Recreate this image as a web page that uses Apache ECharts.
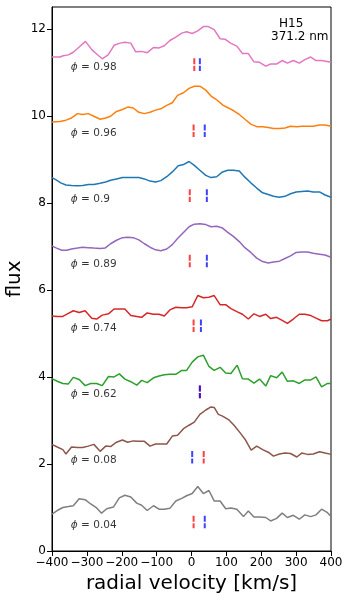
<!DOCTYPE html>
<html><head><meta charset="utf-8">
<script src="https://cdn.jsdelivr.net/npm/echarts@6/dist/echarts.min.js"></script>
<style>html,body{margin:0;padding:0;background:#fff}#c{width:350px;height:601px}</style>
</head><body><div id="c"></div>
<script>
// ---- data ----
const phaseLabels = ['0.98','0.96','0.9','0.89','0.74','0.62','0.08','0.04'];
const phaseLabelY = [11.11, 9.60, 8.09, 6.60, 5.11, 3.59, 2.09, 0.59];
const phaseLabelX = -346;

const vPink = [-400,-377,-368,-353,-339,-322,-304,-286,-272,-256,-239,-222,-205,-191,-174,-160,-143,-127,-109,-93,-78,-62,-45,-28,-14,2,18,34,48,65,82,96,112,130,146,163,179,195,213,227,244,260,275,292,309,325,342,357,373,400];
const fPink = [11.35,11.35,11.38,11.40,11.46,11.58,11.71,11.52,11.42,11.31,11.40,11.62,11.67,11.69,11.67,11.47,11.48,11.45,11.57,11.56,11.61,11.73,11.81,11.90,11.93,11.89,11.95,12.05,12.05,11.98,11.77,11.76,11.67,11.60,11.43,11.43,11.24,11.23,11.14,11.19,11.19,11.27,11.21,11.27,11.21,11.29,11.35,11.27,11.27,11.23];

const vOrange = [-400,-377,-360,-344,-327,-312,-296,-280,-262,-246,-232,-215,-200,-183,-167,-151,-135,-119,-103,-88,-71,-55,-40,-23,-7,8,24,41,58,72,91,106,122,137,153,170,187,204,220,235,252,268,284,302,316,333,349,367,383,400];
const fOrange = [9.86,9.87,9.90,9.95,10.05,10.03,10.05,9.99,9.92,9.95,9.99,10.10,10.14,10.20,10.18,10.08,10.05,10.08,10.13,10.16,10.24,10.30,10.47,10.53,10.63,10.68,10.68,10.59,10.44,10.37,10.24,10.18,10.11,10.03,9.92,9.81,9.75,9.75,9.73,9.71,9.71,9.72,9.76,9.75,9.76,9.76,9.76,9.79,9.79,9.76];

const vBlue = [-400,-387,-375,-360,-344,-327,-312,-296,-280,-262,-246,-232,-215,-198,-183,-167,-151,-135,-119,-103,-88,-71,-55,-38,-23,-7,8,24,41,56,72,89,104,120,137,153,170,187,204,220,235,252,268,284,300,316,333,349,367,383,400];
const fBlue = [8.58,8.52,8.46,8.41,8.40,8.39,8.40,8.42,8.42,8.45,8.48,8.52,8.55,8.58,8.58,8.58,8.58,8.55,8.50,8.48,8.51,8.60,8.71,8.85,8.88,8.95,8.86,8.75,8.63,8.58,8.60,8.71,8.75,8.75,8.73,8.59,8.46,8.34,8.23,8.19,8.15,8.13,8.15,8.21,8.25,8.26,8.27,8.25,8.25,8.18,8.13];

const vPurple = [-400,-387,-372,-358,-344,-327,-312,-296,-280,-262,-248,-232,-215,-198,-183,-167,-151,-135,-119,-103,-88,-71,-55,-40,-23,-7,8,24,41,56,72,89,104,120,137,153,170,187,204,220,235,252,268,284,300,316,333,349,367,383,400];
const fPurple = [7.01,6.96,6.91,6.91,6.94,6.96,6.98,6.97,6.96,6.95,6.96,7.06,7.14,7.20,7.21,7.20,7.15,7.06,6.98,6.92,6.90,6.94,7.04,7.18,7.32,7.45,7.51,7.52,7.50,7.45,7.46,7.42,7.32,7.23,7.11,6.97,6.86,6.73,6.65,6.62,6.64,6.66,6.72,6.78,6.86,6.87,6.87,6.84,6.82,6.80,6.75];

const vRed = [-400,-385,-369,-353,-339,-322,-305,-286,-272,-256,-238,-222,-207,-191,-174,-157,-143,-127,-109,-93,-78,-62,-45,-28,-14,2,18,34,50,65,82,98,113,130,146,163,179,195,213,227,244,260,275,292,309,325,342,357,373,390,400];
const fRed = [5.40,5.39,5.39,5.46,5.52,5.48,5.52,5.35,5.33,5.42,5.45,5.56,5.56,5.56,5.41,5.39,5.37,5.47,5.44,5.44,5.40,5.54,5.60,5.59,5.59,5.61,5.87,5.82,5.83,5.87,5.66,5.66,5.57,5.50,5.44,5.33,5.45,5.39,5.44,5.34,5.37,5.30,5.23,5.33,5.44,5.44,5.41,5.35,5.29,5.29,5.33];

const vGreen = [-400,-385,-369,-353,-339,-322,-305,-289,-272,-256,-238,-222,-207,-191,-174,-157,-143,-127,-109,-93,-78,-62,-45,-28,-14,2,18,34,50,65,82,98,113,131,146,163,179,195,213,227,244,260,275,292,309,325,342,357,373,390,400];
const fGreen = [3.96,3.90,3.85,3.84,3.99,3.94,3.80,3.85,3.85,3.80,4.01,4.00,4.07,3.95,3.89,3.81,3.92,3.87,3.98,4.02,4.05,4.06,4.06,4.15,4.15,4.34,4.46,4.50,4.24,4.15,4.22,4.09,4.08,4.27,3.96,3.95,3.86,3.95,3.79,4.03,3.98,4.11,3.90,3.91,3.85,3.93,3.93,4.00,3.77,3.85,3.85];

const vBrown = [-400,-385,-369,-360,-344,-327,-312,-296,-280,-262,-246,-232,-215,-198,-183,-167,-151,-135,-119,-103,-88,-71,-55,-40,-23,-7,8,24,41,56,65,77,89,106,122,139,155,171,187,204,220,235,252,268,284,302,316,333,349,367,383,400];
const fBrown = [2.45,2.39,2.33,2.23,2.39,2.38,2.38,2.41,2.45,2.29,2.41,2.40,2.50,2.55,2.50,2.53,2.52,2.52,2.41,2.46,2.46,2.46,2.64,2.66,2.81,2.89,2.96,3.14,3.24,3.31,3.30,3.14,3.10,3.02,2.89,2.72,2.55,2.32,2.41,2.33,2.27,2.18,2.23,2.25,2.24,2.16,2.25,2.22,2.23,2.28,2.25,2.22];

const vGray = [-400,-385,-369,-353,-339,-322,-305,-289,-272,-258,-243,-224,-207,-191,-174,-157,-143,-127,-109,-93,-78,-62,-45,-28,-14,2,18,34,50,65,82,98,113,130,149,163,179,195,213,227,244,260,275,292,309,325,342,357,373,390,400];
const fGray = [0.85,0.93,1.00,1.02,1.04,1.20,1.18,1.08,0.99,0.87,0.97,1.01,1.22,1.28,1.24,1.10,1.05,0.93,1.04,0.96,0.96,0.98,1.15,1.21,1.27,1.32,1.48,1.32,1.39,1.15,1.15,0.97,0.99,0.96,0.79,0.92,0.78,0.78,0.77,0.69,0.75,0.87,0.77,0.82,0.73,0.83,0.79,0.83,0.96,0.88,0.79];

// marker velocities (red / blue dashes) per spectrum, top to bottom
const markRedV  = [8, 6, -5, -5, 6, 24, 35, 6];
const markBlueV = [24, 38, 44, 44, 27, 24, 2, 38];
const markTop    = [11.32, 9.80, 8.31, 6.81, 5.32, 3.80, 2.30, 0.81];
const markBottom = [11.03, 9.51, 8.02, 6.52, 5.03, 3.51, 2.01, 0.52];

const xTicks = [-400,-300,-200,-100,0,100,200,300,400];
const yTicks = [0,2,4,6,8,10,12];

// ---- chart ----
const FONT = 'DejaVu Sans';
const spectra = [
  [vPink, fPink, '#e377c2'],
  [vOrange, fOrange, '#ff7f0e'],
  [vBlue, fBlue, '#1f77b4'],
  [vPurple, fPurple, '#9467bd'],
  [vRed, fRed, '#d62728'],
  [vGreen, fGreen, '#2ca02c'],
  [vBrown, fBrown, '#8c564b'],
  [vGray, fGray, '#7f7f7f']
];
const series = [];
spectra.forEach(([v, f, c]) => {
  series.push({
    type: 'line', data: v.map((x, i) => [x, f[i]]), showSymbol: false, symbol: 'none',
    lineStyle: { color: c, width: 1.5 }, itemStyle: { color: c }, z: 2, silent: true
  });
});
for (let i = 0; i < markTop.length; i++) {
  [[markRedV[i], 'rgba(255,0,0,0.75)'], [markBlueV[i], 'rgba(0,0,255,0.75)']].forEach(([mv, c]) => {
    series.push({
      type: 'line', data: [[mv, markTop[i]], [mv, markBottom[i]]], showSymbol: false, symbol: 'none',
      lineStyle: { color: c, width: 2, type: [6, 1.5] }, z: 3, silent: true
    });
  });
}
series.push({
  type: 'scatter', symbolSize: 0, silent: true, z: 4,
  data: phaseLabels.map((p, i) => [phaseLabelX, phaseLabelY[i], p]),
  label: {
    show: true, position: 'right', distance: 0,
    formatter: (d) => '{p|ϕ}{n| = ' + d.value[2] + '}',
    rich: {
      p: { fontFamily: FONT, fontStyle: 'italic', fontSize: 10.5, color: '#000' },
      n: { fontFamily: FONT, fontSize: 10.5, color: '#000' }
    }
  }
});

const chart = echarts.init(document.getElementById('c'), null, { renderer: 'canvas' });
chart.setOption({
  animation: false,
  backgroundColor: '#fff',
  grid: { left: 52, right: 19, top: 7, bottom: 50, containLabel: false, outerBoundsMode: 'none',
    show: true, borderColor: '#000', borderWidth: 1, backgroundColor: 'transparent' },
  xAxis: {
    type: 'value', min: -400, max: 400, interval: 100,
    name: 'radial velocity [km/s]', nameLocation: 'middle', nameGap: 21,
    nameTextStyle: { fontFamily: FONT, fontSize: 20, color: '#000' },
    axisLine: { show: true, onZero: false, lineStyle: { color: '#000', width: 1 } },
    axisTick: { show: true, length: 5, lineStyle: { color: '#000' }, customValues: xTicks },
    axisLabel: { fontFamily: FONT, fontSize: 12, color: '#000', margin: 6, customValues: xTicks,
      formatter: (v) => String(v).replace('-', '\u2212') },
    splitLine: { show: false }
  },
  yAxis: {
    type: 'value', min: 0, max: 12.5, interval: 2,
    name: 'flux', nameLocation: 'middle', nameGap: 27, nameMoveOverlap: false,
    nameTextStyle: { fontFamily: FONT, fontSize: 20, color: '#000' },
    axisLine: { show: true, onZero: false, lineStyle: { color: '#000', width: 1 } },
    axisTick: { show: true, length: 5, lineStyle: { color: '#000' }, customValues: yTicks },
    axisLabel: { fontFamily: FONT, fontSize: 12, color: '#000', margin: 6, customValues: yTicks },
    splitLine: { show: false }
  },
  graphic: [
    { type: 'text', left: 279, top: 18, style: { text: 'H15', font: '12px "DejaVu Sans"', fill: '#000' } },
    { type: 'text', left: 271, top: 31, style: { text: '371.2 nm', font: '12px "DejaVu Sans"', fill: '#000' } }
  ],
  series: series
});
</script>
</body></html>
